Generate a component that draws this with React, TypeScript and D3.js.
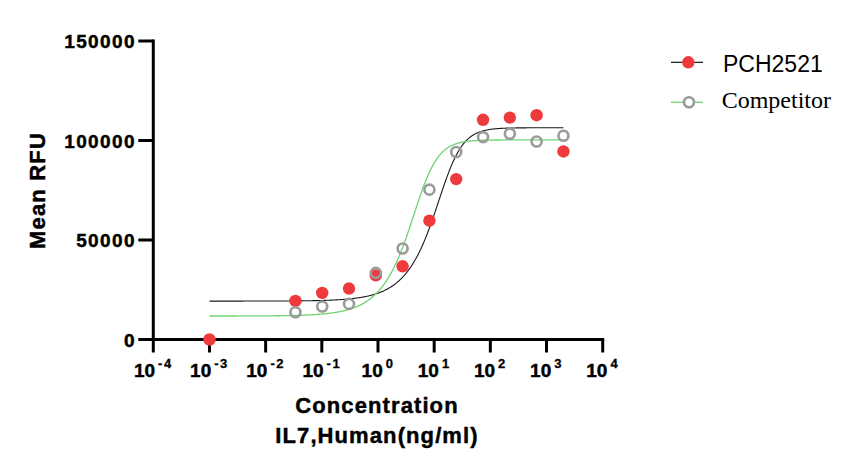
import * as d3 from 'd3';

// concentrations (ng/ml), 3-fold dilution series plus a blank
const concentrations = [0.001, 0.0339, 0.1016, 0.3048, 0.9145, 2.743, 8.23, 24.69, 74.07, 222.2, 666.7, 2000];
const pchValues = [0, 19400, 23400, 25600, 32200, 36800, 59700, 80600, 110400, 111500, 112700, 94500];
const competitorValues = [null, 13700, 16600, 17900, 33500, 45700, 75300, 94200, 101700, 103400, 99500, 102400];

// asymmetric sigmoid fits
const pchFit = { bottom: 19300, top: 106400, ec50: 16.5, hill: 2.2, asym: 0.5 };
const competitorFit = { bottom: 11800, top: 100300, ec50: 6.0, hill: 2.2, asym: 0.5 };

const xExponents = [-4, -3, -2, -1, 0, 1, 2, 3, 4];
const yTicks = [0, 50000, 100000, 150000];

const series = [
  { name: 'PCH2521', values: pchValues, fit: pchFit, line: '#1a1a1a', width: 1.1, filled: true },
  { name: 'Competitor', values: competitorValues, fit: competitorFit, line: '#6fd36f', width: 1.3, filled: false },
];

const RED = '#ee3a3d';
const GRAY = '#9a9a9a';
const sans = '"Liberation Sans", Arial, sans-serif';
const heavy = { fontFamily: sans, fontWeight: 'bold', stroke: '#000', strokeWidth: 0.45 } as const;

type Fit = typeof pchFit;
const curve = (f: Fit, x: number) =>
  f.bottom + (f.top - f.bottom) / Math.pow(1 + Math.pow(f.ec50 / x, f.hill), f.asym);

export default function App() {
  const x = d3.scaleLog().domain([1e-4, 1e4]).range([153.3, 602.7]);
  const y = d3.scaleLinear().domain([0, 150000]).range([339.5, 41]);

  const lo = Math.log10(concentrations[0]);
  const hi = Math.log10(concentrations[concentrations.length - 1]);
  const grid = d3.range(lo, hi + 0.001, 0.01).map((l) => Math.pow(10, l));
  const line = d3
    .line<number>()
    .x((c) => x(c))
    .y((c) => y(0));

  return (
    <svg width={855} height={474} style={{ position: 'absolute', left: 0, top: 0, background: '#fff' }}>
      {/* fitted curves */}
      {series.map((s) => (
        <path
          key={`fit-${s.name}`}
          d={line.y((c) => y(curve(s.fit, c)))(grid) ?? ''}
          fill="none"
          stroke={s.line}
          strokeWidth={s.width}
        />
      ))}

      {/* axes */}
      <line x1={x(1e-4)} x2={x(1e-4)} y1={y(150000) - 1.5} y2={y(0) + 1.5} stroke="#000" strokeWidth={3} />
      <line x1={x(1e-4) - 1.5} x2={x(1e4) + 1.5} y1={y(0)} y2={y(0)} stroke="#000" strokeWidth={3} />
      {yTicks.map((t) => (
        <g key={`y-${t}`}>
          <line x1={x(1e-4) - 15} x2={x(1e-4)} y1={y(t)} y2={y(t)} stroke="#000" strokeWidth={3} />
          <text x={136} y={y(t) + 7} textAnchor="end" fontSize={19} letterSpacing={1.4} {...heavy}>
            {d3.format('d')(t)}
          </text>
        </g>
      ))}
      {xExponents.map((e) => (
        <g key={`x-${e}`}>
          <line x1={x(10 ** e)} x2={x(10 ** e)} y1={y(0)} y2={y(0) + 13} stroke="#000" strokeWidth={3} />
          <text x={x(10 ** e)} y={377} textAnchor="middle" fontSize={19} {...heavy}>
            <tspan>10</tspan>
            <tspan dx={3} dy={-9} fontSize={13} letterSpacing={1.5} strokeWidth={0.3}>
              {e < 0 ? `-${-e}` : e}
            </tspan>
          </text>
        </g>
      ))}

      {/* axis titles */}
      <text x={377} y={413.3} textAnchor="middle" fontSize={22} letterSpacing={1.1} {...heavy}>
        Concentration
      </text>
      <text x={377} y={443.3} textAnchor="middle" fontSize={22} letterSpacing={1.1} {...heavy}>
        IL7,Human(ng/ml)
      </text>
      <text transform="translate(45,190.5) rotate(-90)" textAnchor="middle" fontSize={22} letterSpacing={1.2} {...heavy}>
        Mean RFU
      </text>

      {/* data points */}
      {series.map((s) => (
        <g key={`pts-${s.name}`}>
          {s.values.map((v, i) =>
            v === null ? null : s.filled ? (
              <circle key={i} cx={x(concentrations[i])} cy={y(v)} r={6.2} fill={RED} />
            ) : (
              <circle key={i} cx={x(concentrations[i])} cy={y(v)} r={5} fill="none" stroke={GRAY} strokeWidth={2.6} />
            ),
          )}
        </g>
      ))}

      {/* legend */}
      <line x1={671} x2={703} y1={62.3} y2={62.3} stroke="#000" strokeWidth={1.1} />
      <circle cx={688.3} cy={62.3} r={6.2} fill={RED} />
      <text x={723} y={71.7} fontFamily={sans} fontSize={23}>
        PCH2521
      </text>
      <line x1={671} x2={703} y1={102.3} y2={102.3} stroke="#6fd36f" strokeWidth={1.3} />
      <circle cx={689} cy={102.3} r={5} fill="#fff" stroke={GRAY} strokeWidth={2.6} />
      <text x={721.7} y={107.7} fontFamily={'"Liberation Serif", "Times New Roman", serif'} fontSize={24}>
        Competitor
      </text>
    </svg>
  );
}
